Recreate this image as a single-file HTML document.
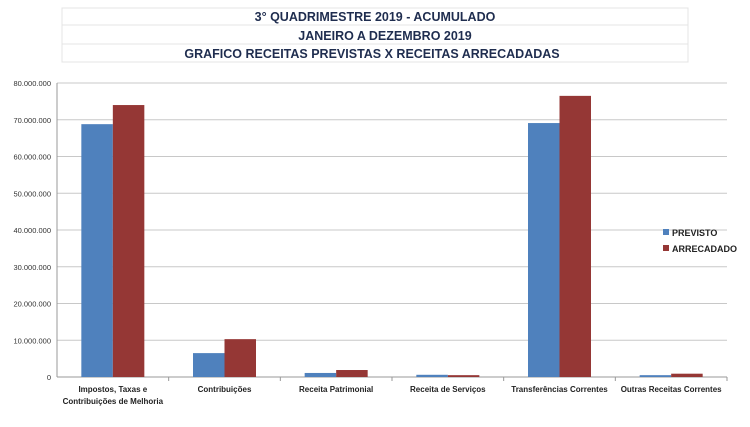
<!DOCTYPE html>
<html><head><meta charset="utf-8"><style>
body{margin:0;background:#fff;}
svg text{font-family:"Liberation Sans",sans-serif;}
</style></head><body>
<svg width="750" height="422" xmlns="http://www.w3.org/2000/svg">
<g>
<rect x="62" y="8" width="626" height="54" fill="#fff" stroke="#e4e4e4"/>
<line x1="62" y1="25" x2="688" y2="25" stroke="#e4e4e4"/>
<line x1="62" y1="44" x2="688" y2="44" stroke="#e4e4e4"/>
<text x="375" y="21" text-anchor="middle" font-size="12.5" font-weight="bold" fill="#1f2d4f">3° QUADRIMESTRE 2019 - ACUMULADO</text>
<text x="385" y="40" text-anchor="middle" font-size="12.5" font-weight="bold" fill="#1f2d4f">JANEIRO A DEZEMBRO 2019</text>
<text x="372" y="58" text-anchor="middle" font-size="12.5" font-weight="bold" fill="#1f2d4f">GRAFICO RECEITAS PREVISTAS   X    RECEITAS ARRECADADAS</text>
</g>
<g id="grid"></g><g id="bars"></g><g id="axis"></g>
<g>
<rect x="663" y="229" width="6" height="6" fill="#4f81bd"/>
<text x="672" y="236" font-size="9" font-weight="bold" fill="#222">PREVISTO</text>
<rect x="663" y="245" width="6" height="6" fill="#953735"/>
<text x="672" y="252" font-size="9" font-weight="bold" fill="#222">ARRECADADO</text>
</g>
</svg>
<script>
const categories=[["Impostos, Taxas e","Contribuições de Melhoria"],["Contribuições"],["Receita Patrimonial"],["Receita de Serviços"],["Transferências Correntes"],["Outras Receitas Correntes"]];
const previsto=[68.8,6.5,1.1,0.6,69.1,0.5];
const arrecadado=[74.0,10.3,1.9,0.5,76.5,0.9];
const yTicks=[0,10,20,30,40,50,60,70,80];
const yTickLabels=["0","10.000.000","20.000.000","30.000.000","40.000.000","50.000.000","60.000.000","70.000.000","80.000.000"];
const NS="http://www.w3.org/2000/svg";
const x0=57,x1=727,y0=377,y1=83,yMax=80;
const y=v=>y0-(v/yMax)*(y0-y1);
const bw=(x1-x0)/categories.length;
const cx=i=>x0+bw*(i+0.5);
function mk(tag,attrs,parent){const e=document.createElementNS(NS,tag);for(const k in attrs)e.setAttribute(k,attrs[k]);document.getElementById(parent).appendChild(e);return e;}
yTicks.forEach((t,i)=>{
 const l=mk('line',{x1:x0,x2:x1,y1:y(t),y2:y(t),stroke:i===0?'#999':'#c8c8c8'},'grid');
 
 
 const tx=mk('text',{x:x0-6,y:y(t)+3,'text-anchor':'end','font-size':'7.5',fill:'#333'},'axis');
 tx.textContent=yTickLabels[i];
 
 
});
mk('line',{x1:x0,x2:x0,y1:y1,y2:y0,stroke:'#999'},'axis');
const barW=31.5;
categories.forEach((c,i)=>{
 const b1=mk('rect',{x:cx(i)-barW,y:y(previsto[i]),width:barW,height:y0-y(previsto[i]),fill:'#4f81bd'},'bars');
 
 
 const b2=mk('rect',{x:cx(i),y:y(arrecadado[i]),width:barW,height:y0-y(arrecadado[i]),fill:'#953735'},'bars');
 
 
 mk('line',{x1:x0+bw*(i+1),x2:x0+bw*(i+1),y1:y0,y2:y0+4,stroke:'#999'},'axis');
 c.forEach((line,j)=>{
  const t=mk('text',{x:cx(i),y:y0+15+j*12,'text-anchor':'middle','font-size':'8','font-weight':'bold',fill:'#222'},'axis');
  t.textContent=line;
  
  
 });
});
</script>
</body></html>
